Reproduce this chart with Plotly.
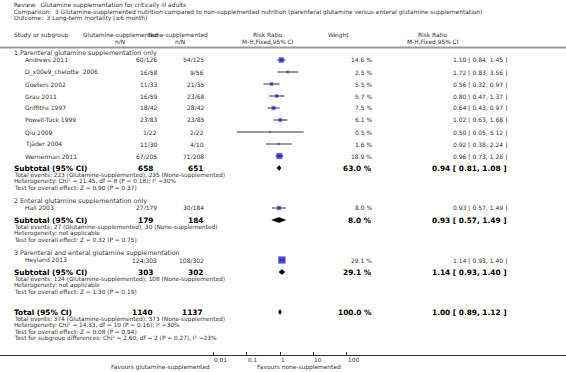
import math
import plotly.graph_objects as go

W, H = 566, 372

# ---------------- data ----------------
studies = ["Andrews 2011", "D_x00e9_chelotte  2006", "Goeters 2002", "Grau 2011",
           "Griffiths 1997", "Powell-Tuck 1999", "Qiu 2009", "Tjäder 2004",
           "Wernerman 2011", "Hall 2003", "Heyland 2013"]
study_group = [1, 1, 1, 1, 1, 1, 1, 1, 1, 2, 3]
glut_nN = ["60/126", "16/58", "11/33", "16/59", "18/42", "23/83", "1/22", "11/30",
           "67/205", "27/179", "124/303"]
none_nN = ["54/125", "9/56", "21/35", "23/68", "28/42", "23/85", "2/22", "4/10",
           "71/208", "30/184", "108/302"]
weights = [14.6, 2.5, 5.5, 5.7, 7.5, 6.1, 0.5, 1.6, 18.9, 8.0, 29.1]
rr = [1.10, 1.72, 0.56, 0.80, 0.64, 1.02, 0.50, 0.92, 0.96, 0.93, 1.14]
rr_lo = [0.84, 0.83, 0.32, 0.47, 0.43, 0.63, 0.05, 0.38, 0.73, 0.57, 0.93]
rr_hi = [1.45, 3.56, 0.97, 1.37, 0.97, 1.68, 5.12, 2.24, 1.26, 1.49, 1.40]

group_titles = ["1 Parenteral glutamine supplementation only",
                "2 Enteral glutamine supplementation only",
                "3 Parenteral and enteral glutamine supplementation"]
sub_glut = ["658", "179", "303"]
sub_none = ["651", "184", "302"]
sub_weight = [63.0, 8.0, 29.1]
sub_rr = [0.94, 0.93, 1.14]
sub_lo = [0.81, 0.57, 0.93]
sub_hi = [1.08, 1.49, 1.40]
sub_notes = [
    ["Total events: 223 (Glutamine-supplemented), 235 (None-supplemented)",
     "Heterogeneity: Chi² = 11.45, df = 8 (P = 0.18); I² =30%",
     "Test for overall effect: Z = 0.90 (P = 0.37)"],
    ["Total events: 27 (Glutamine-supplemented), 30 (None-supplemented)",
     "Heterogeneity: not applicable",
     "Test for overall effect: Z = 0.32 (P = 0.75)"],
    ["Total events: 124 (Glutamine-supplemented), 108 (None-supplemented)",
     "Heterogeneity: not applicable",
     "Test for overall effect: Z = 1.30 (P = 0.19)"],
]
total_glut, total_none = "1140", "1137"
total_weight = 100.0
total_rr, total_lo, total_hi = 1.00, 0.89, 1.12
total_notes = ["Total events: 374 (Glutamine-supplemented), 373 (None-supplemented)",
               "Heterogeneity: Chi² = 14.33, df = 10 (P = 0.16); I² =30%",
               "Test for overall effect: Z = 0.08 (P = 0.94)",
               "Test for subgroup differences: Chi² = 2.60, df = 2 (P = 0.27), I² =23%"]

title_lines = ["Review:  Glutamine supplementation for critically ill adults",
               "Comparison:  3 Glutamine-supplemented nutrition compared to non-supplemented nutrition (parenteral glutamine versus enteral glutamine supplementation)",
               "Outcome:  3 Long-term mortality (≥6 month)"]
tick_vals = [0.01, 0.1, 1, 10, 100]
tick_text = ["0.01", "0.1", "1", "10", "100"]
favours_left = "Favours glutamine-supplemented"
favours_right = "Favours none-supplemented"

# ---------------- layout constants (pixels) ----------------
FONT = "DejaVu Sans"
TXT = "#333333"
FS_TITLE = 5.9
FS_HEAD = 5.9
FS_GROUP = 6.3
FS_ROW = 6.0
FS_NOTE = 5.8
FSB = 7.4
X_NAME_G = 12
X_NAME_S = 23
X_GLUT = 159
X_NONE = 206
X_GLUT_B = 155
X_NONE_B = 205
X_W = 374
X_RR = 509
PX_PER_DEC = 33.3
X_ONE = 280
AXIS_Y = 355

ann = []


def txt(px, py, s, anchor="left", size=FS_ROW, bold=False, color=TXT):
    s = s.replace("  ", "\u00a0\u00a0")
    ann.append(dict(x=px / W, xref="paper", y=1 - py / H, yref="paper",
                    text=("<b>%s</b>" % s) if bold else s,
                    showarrow=False, xanchor=anchor, yanchor="middle",
                    font=dict(family=FONT, size=size, color="#000000" if bold else color)))


# titles
for i, t in enumerate(title_lines):
    txt(12, 6 + i * 6.5, t, size=FS_TITLE)
# headers
txt(12, 35, "Study or subgroup", size=FS_HEAD)
txt(120, 35, "Glutamine-supplemented", "center", size=FS_HEAD)
txt(120, 41.5, "n/N", "center", size=FS_HEAD)
txt(178, 35, "None-supplemented", "center", size=FS_HEAD)
txt(180, 41.5, "n/N", "center", size=FS_HEAD)
txt(268, 35, "Risk Ratio", "center", size=FS_HEAD)
txt(268, 41.5, "M-H,Fixed,95% CI", "center", size=FS_HEAD)
txt(338, 35, "Weight", "center", size=FS_HEAD)
txt(433, 35, "Risk Ratio", "center", size=FS_HEAD)
txt(433, 41.5, "M-H,Fixed,95% CI", "center", size=FS_HEAD)

# rows
y = 53
study_y = []
diamonds = []
for g in range(3):
    txt(X_NAME_G, y, group_titles[g], size=FS_GROUP)
    y += 7
    first = True
    for i, s in enumerate(studies):
        if study_group[i] != g + 1:
            continue
        if not first:
            y += 12
        first = False
        study_y.append(y)
        txt(X_NAME_S, y, s)
        txt(X_GLUT, y, glut_nN[i], "right")
        txt(X_NONE, y, none_nN[i], "right")
        txt(X_W, y, "%.1f %%" % weights[i], "right")
        txt(X_RR, y, "%.2f [ %.2f, %.2f ]" % (rr[i], rr_lo[i], rr_hi[i]), "right")
    y += 12
    txt(X_NAME_G, y, "Subtotal (95% CI)", size=FSB, bold=True)
    txt(X_GLUT_B, y, sub_glut[g], "right", size=FSB, bold=True)
    txt(X_NONE_B, y, sub_none[g], "right", size=FSB, bold=True)
    txt(X_W, y, "%.1f %%" % sub_weight[g], "right", size=FSB, bold=True)
    txt(X_RR, y, "%.2f [ %.2f, %.2f ]" % (sub_rr[g], sub_lo[g], sub_hi[g]), "right", size=FSB, bold=True)
    diamonds.append((sub_lo[g], sub_rr[g], sub_hi[g], y))
    y += 7
    for k, n in enumerate(sub_notes[g]):
        if k:
            y += 6.5
        txt(X_NAME_G, y, n, size=FS_NOTE)
    y += 13

y += 7
txt(X_NAME_G, y, "Total (95% CI)", size=FSB, bold=True)
txt(X_GLUT_B, y, total_glut, "right", size=FSB, bold=True)
txt(X_NONE_B, y, total_none, "right", size=FSB, bold=True)
txt(X_W, y, "%.1f %%" % total_weight, "right", size=FSB, bold=True)
txt(X_RR, y, "%.2f [ %.2f, %.2f ]" % (total_rr, total_lo, total_hi), "right", size=FSB, bold=True)
diamonds.append((total_lo, total_rr, total_hi, y))
y += 7
for k, n in enumerate(total_notes):
    if k:
        y += 6.5
    txt(X_NAME_G, y, n, size=FS_NOTE)

# tick labels (left aligned at tick) and favours labels
for v, t in zip(tick_vals, tick_text):
    ann.append(dict(x=math.log10(v), xref="x", y=1 - (AXIS_Y + 5) / H, yref="paper", text=t,
                    showarrow=False, xanchor="left", yanchor="middle", xshift=-1,
                    font=dict(family=FONT, size=FS_NOTE, color=TXT)))
txt(212, 367, favours_left, "right", size=FS_HEAD)
txt(255, 367, favours_right, "left", size=FS_HEAD)

fig = go.Figure()

# CI lines
cx, cy = [], []
for i in range(len(studies)):
    cx += [rr_lo[i], rr_hi[i], None]
    cy += [study_y[i], study_y[i], None]
fig.add_trace(go.Scatter(x=cx, y=cy, mode="lines", line=dict(color="#000000", width=0.8),
                         hoverinfo="skip", showlegend=False))
# squares
fig.add_trace(go.Scatter(x=rr, y=study_y, mode="markers",
                         marker=dict(symbol="square", size=[max(1.5, 1.3 * math.sqrt(w)) for w in weights],
                                     color="#0000cc", line=dict(color="#5050ff", width=0.6)),
                         hoverinfo="skip", showlegend=False))
# diamonds
for lo, est, hi, yy in diamonds:
    h = 2.6
    fig.add_trace(go.Scatter(x=[lo, est, hi, est, lo], y=[yy, yy - h, yy, yy + h, yy],
                             mode="lines", fill="toself", fillcolor="#000000",
                             line=dict(color="#000000", width=0.5), hoverinfo="skip", showlegend=False))

shapes = [
    dict(type="line", xref="paper", yref="paper", x0=0, x1=1, y0=1 - 47.5 / H, y1=1 - 47.5 / H,
         line=dict(color="#9a9a9a", width=2), layer="below"),
    dict(type="line", xref="x", yref="paper", x0=0, x1=0, y0=1 - 48.5 / H, y1=1 - AXIS_Y / H,
         line=dict(color="#d4d4d4", width=2.5), layer="below"),
]

lo_dec = -X_ONE / PX_PER_DEC
hi_dec = (W - X_ONE) / PX_PER_DEC
fig.update_layout(
    width=W, height=H, margin=dict(l=0, r=0, t=0, b=0),
    paper_bgcolor="white", plot_bgcolor="white",
    showlegend=False, annotations=ann, shapes=shapes,
    xaxis=dict(type="log", range=[lo_dec, hi_dec], domain=[0, 1], anchor="y", side="bottom",
               showgrid=False, zeroline=False, showline=True, linecolor="#333333", linewidth=1,
               tickvals=tick_vals, ticktext=["" for _ in tick_vals], ticks="inside",
               ticklen=3, tickwidth=0.8, tickcolor="#333333", fixedrange=True),
    yaxis=dict(range=[AXIS_Y, 0], domain=[1 - AXIS_Y / H, 1], visible=False, fixedrange=True),
)

fig.write_html("out.html", config={"displayModeBar": False},
               post_script="document.body.style.margin='0';document.body.style.overflow='hidden';")
